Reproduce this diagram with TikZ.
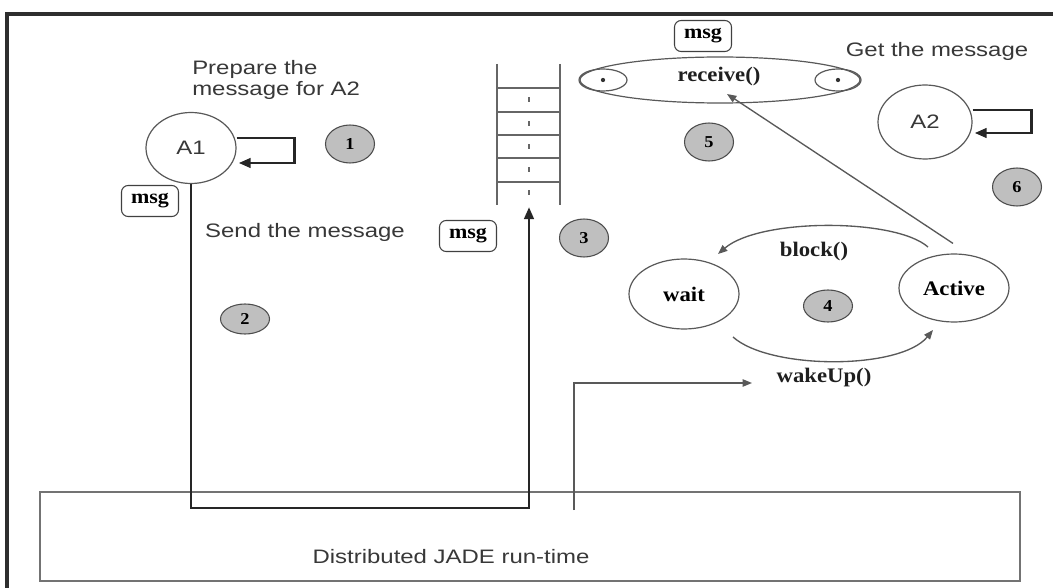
\documentclass[tikz,border=0pt]{standalone}
\usepackage{fontspec}
\usetikzlibrary{arrows.meta,shapes.geometric,calc}
\newfontfamily\labelsans[FakeStretch=1.23]{Liberation Sans}
\newfontfamily\labelserif[FakeStretch=1.1]{Liberation Serif}
\def\pxu{0.75pt}

\begin{document}
\begin{tikzpicture}[x=0.75pt,y=-0.75pt,
  ell/.style 2 args={ellipse, draw=black!65, line width=0.9pt, inner sep=0,
    minimum width=#1*\pxu, minimum height=#2*\pxu},
  stepnum/.style={ellipse, draw=black!70, fill=black!25, line width=0.8pt, inner sep=0,
    minimum width=49*\pxu, minimum height=#1*\pxu,
    font=\labelserif\bfseries\fontsize{12.5}{14}\selectfont},
  stepnum/.default=38,
  msgbox/.style={draw=black!75, rounded corners=5pt, line width=0.8pt, inner sep=0,
    minimum width=57*\pxu, minimum height=31*\pxu,
    font=\labelserif\bfseries\fontsize{15}{17}\selectfont},
  sanslabel/.style={font=\labelsans\fontsize{14.6}{16.2}\selectfont, text=black!78, inner sep=0},
  seriflabel/.style={font=\labelserif\bfseries\fontsize{15.5}{17}\selectfont, text=black!88, inner sep=0},
  heavyline/.style={draw=black!85, line width=2.2pt},
  thinline/.style={draw=black!65, line width=1pt},
  rail/.style={draw=black!60, line width=1.1pt},
  bigtip/.style={-{Triangle[length=9pt,width=7pt]}},
  smalltip/.style={-{Triangle[length=7pt,width=5.5pt]}},
]
\useasboundingbox[fill=white] (0,0) rectangle (1053,588);

% outer frame
\draw[draw=black!82, line width=2.6pt] (7,600) -- (7,14) -- (1060,14);

% runtime box
\node (rt) [draw=black!55, line width=1pt, minimum width=980*\pxu, minimum height=89*\pxu, inner sep=0] at (530,536.5) {};
\node (rttext) [sanslabel] at (451,557) {Distributed JADE run-time};

% agent A1
\node (A1) [ell={90}{71}, font=\labelsans\fontsize{14.6}{16}\selectfont, text=black!78] at (191,148) {A1};
\draw[heavyline, bigtip] ($(A1.east)+(0,-10)$) -- ++(58,0) -- ++(0,25) -- ($(A1.east)+(2,15)$);
\node (prep) [sanslabel, align=left, anchor=north west] at (192,60) {Prepare the\\message for A2};
\node (s1) [stepnum] at (350,144) {1};
\node (m1) [msgbox] at (150,201) {msg};

% message queue
\foreach \xx in {497,560} \draw[rail] (\xx,64) -- (\xx,205);
\foreach \yy in {88,112,135,158,182} \draw[rail] (497,\yy) -- (560,\yy);
\foreach \yy in {100,124,147,170,193} \draw[draw=black!60, line width=1.3pt] (529,\yy-2.5) -- (529,\yy+2.5);
\coordinate (qin) at (529,207);
\coordinate (turn) at (529,508);

% sending the message into the queue
\draw[heavyline, bigtip] (A1.south) -- (A1.south |- turn) -- (turn) -- (qin);
\node (send) [sanslabel] at (305,232) {Send the message};
\node (s2) [stepnum=30] at (245,319) {2};
\node (m2) [msgbox] at (468,236) {msg};
\node (s3) [stepnum] at (584,238) {3};

% receive behaviour
\node (m3) [msgbox] at (703,36) {msg};
\node (recv) [ell={280}{46}] at (720,80) {};
\node (recvtext) [seriflabel] at (719,77) {receive()};
\node (pl) [ell={48}{22}] at (603,80) {};
\node (pr) [ell={46}{22}] at (838,80) {};
\fill[black!80] (pl.center) circle (1.6pt);
\fill[black!80] (pr.center) circle (1.6pt);
\node (s5) [stepnum] at (709,142) {5};

% agent A2
\node (get) [sanslabel] at (937,51) {Get the message};
\node (A2) [ell={94}{74}, font=\labelsans\fontsize{14.6}{16}\selectfont, text=black!78] at (925,122) {A2};
\draw[heavyline, bigtip] ($(A2.east)+(0,-12)$) -- ++(59,0) -- ++(0,23) -- ($(A2.east)+(2,11)$);
\node (s6) [stepnum] at (1017,187) {6};

% wait / active cycle
\node (wait) [ell={110}{70}, font=\labelserif\bfseries\fontsize{15.5}{17}\selectfont] at (684,294) {wait};
\node (act) [ell={110}{68}, font=\labelserif\bfseries\fontsize{15.5}{17}\selectfont] at (954,288) {Active};
\node (s4) [stepnum=32] at (828,306) {4};
\coordinate (bk0) at (928,247);
\coordinate (bk1) at (718,254);
\draw[thinline, smalltip] (bk0) .. controls (895,218) and (760,218) .. (bk1);
\node (block) [seriflabel] at (814,252) {block()};
\coordinate (wu0) at (733,337);
\coordinate (wu1) at (933,330);
\draw[thinline, smalltip] (wu0) .. controls (770,370) and (900,370) .. (wu1);
\node (wake) [seriflabel] at (824,378) {wakeUp()};

% active state reaches the receive call
\coordinate (rtip) at (727,94);
\draw[thinline, smalltip] ($(act.north)+(-1,-10)$) -- (rtip);

% runtime wakes the agent up
\coordinate (wk0) at (574,510);
\coordinate (wk1) at (752,383);
\draw[thinline, smalltip] (wk0) |- (wk1);
\end{tikzpicture}
\end{document}
